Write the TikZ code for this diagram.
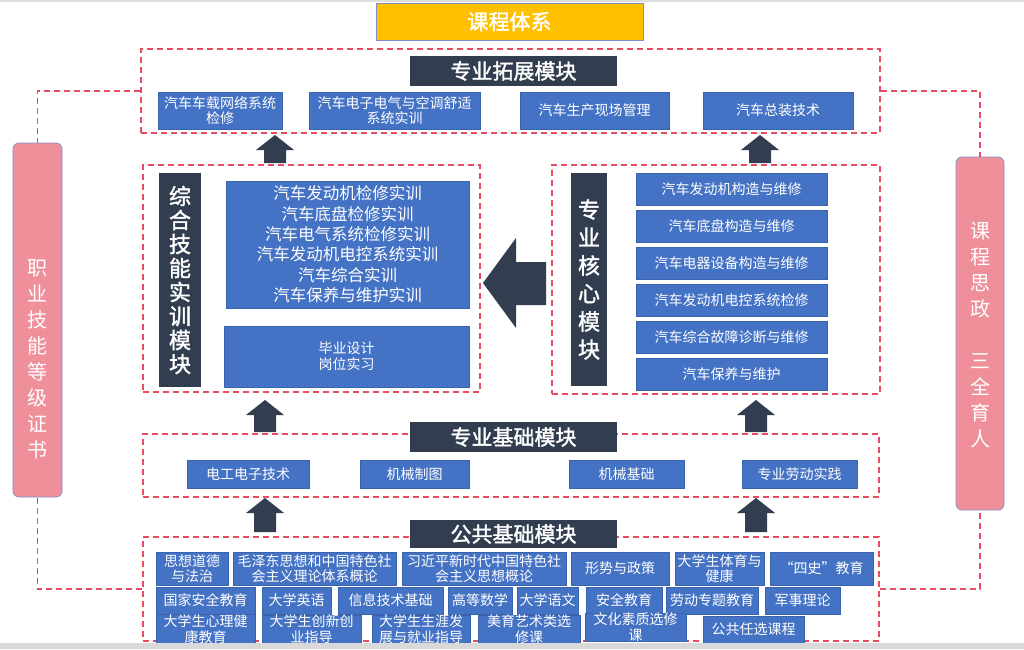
\documentclass[tikz,border=0pt]{standalone}
\usepackage{fontspec}
\setmainfont[AutoFakeBold=1.6]{Noto Sans CJK SC}
\definecolor{dashred}{HTML}{E94C60}
\definecolor{boxblue}{HTML}{4472C4}
\definecolor{boxedge}{HTML}{3A63AE}
\definecolor{darknavy}{HTML}{323E50}
\definecolor{pinkbar}{HTML}{EF8F9A}
\definecolor{baredge}{HTML}{7F8FC8}
\definecolor{titlegold}{HTML}{FFC000}

\begin{document}
\begin{tikzpicture}[x=1pt,y=-1pt,
		spanbox/.style n args={4}{at={({((#1)+(#3))/2},{((#2)+(#4))/2})},minimum width={((#3)-(#1))*1pt},minimum height={((#4)-(#2))*1pt}},
		modframe/.style={draw=dashred,line width=1.8pt,dash pattern=on 6pt off 4pt,inner sep=0pt},
		link/.style={draw=dashred,line width=1.8pt,dash pattern=on 6pt off 4pt},
		course/.style={fill=boxblue,draw=boxedge,line width=0.5pt,text=white,inner sep=0pt,align=center,font=\fontsize{14}{15}\selectfont},
		modhead/.style={fill=darknavy,text=white,inner sep=0pt,font=\fontsize{21}{24}\selectfont\bfseries},
		modside/.style={fill=darknavy,text=white,inner sep=0pt,align=center,font=\fontsize{22}{24}\selectfont\bfseries},
		sidebar/.style={fill=pinkbar,draw=baredge,line width=0.8pt,rounded corners=6pt,inner sep=0pt},
		sidetext/.style={text=white,align=center,font=\fontsize{20}{26}\selectfont}]
		% Page
		\useasboundingbox (0,0) rectangle (1024,649);
		\fill[white] (0,0) rectangle (1024,649);
		\fill[black!12] (0,0) rectangle (1024,1.5);

		% Title
		\node[fill=titlegold,draw=baredge,line width=0.8pt,inner sep=0pt,text=white,
			font=\fontsize{21}{24}\selectfont\bfseries,spanbox={376}{3}{643}{40}] (title) {课程体系};

		% Module frames
		\node[modframe,spanbox={141}{49}{880}{133}] (tuozhan) {};
		\node[modframe,spanbox={143}{165}{480}{392}] (zonghe) {};
		\node[modframe,spanbox={552}{165}{880}{394}] (hexin) {};
		\node[modframe,spanbox={143}{434}{879}{497}] (jichu) {};
		\node[modframe,spanbox={143}{537}{879}{641}] (gonggong) {};

		% Module headers
		\node[modhead,spanbox={410}{56}{617}{86}] (tuozhanhead) {专业拓展模块};
		\node[modhead,spanbox={410}{422}{617}{452}] (jichuhead) {专业基础模块};
		\node[modhead,spanbox={410}{520}{617}{548}] (gonggonghead) {公共基础模块};
		\node[modside,spanbox={159}{173}{201}{387}] (zongheside) {综\\合\\技\\能\\实\\训\\模\\块};
		\node[modside,font=\fontsize{22}{28}\selectfont\bfseries,spanbox={571}{173}{607}{386}] (hexinside) {专\\业\\核\\心\\模\\块};

		% Extension courses
		\node[course,spanbox={158}{92}{282}{129}] (tz1) {汽车车载网络系统\\检修};
		\node[course,spanbox={309}{92}{480}{129}] (tz2) {汽车电子电气与空调舒适\\系统实训};
		\node[course,spanbox={520}{92}{669}{129}] (tz3) {汽车生产现场管理};
		\node[course,spanbox={703}{92}{853}{129}] (tz4) {汽车总装技术};

		% Skill training
		\node[course,font=\fontsize{16.5}{20.4}\selectfont,spanbox={226}{181}{469}{308}] (zh1)
		{汽车发动机检修实训\\汽车底盘检修实训\\汽车电气系统检修实训\\汽车发动机电控系统实训\\汽车综合实训\\汽车保养与维护实训};
		\node[course,font=\fontsize{14}{16}\selectfont,spanbox={224}{326}{469}{387}] (zh2) {毕业设计\\岗位实习};

		% Core courses
		\foreach \t [count=\i from 0] in {汽车发动机构造与维修,汽车底盘构造与维修,汽车电器设备构造与维修,
			汽车发动机电控系统检修,汽车综合故障诊断与维修,汽车保养与维护}
		\node[course,spanbox={636}{173+37*\i}{827}{205+37*\i}] (hx\i) {\t};

		% Basic courses
		\node[course,spanbox={187}{460}{309}{488}] (jc1) {电工电子技术};
		\node[course,spanbox={360}{460}{469}{488}] (jc2) {机械制图};
		\node[course,spanbox={569}{460}{684}{488}] (jc3) {机械基础};
		\node[course,spanbox={742}{460}{857}{488}] (jc4) {专业劳动实践};

		% Public courses
		\foreach \xa/\ya/\xb/\yb/\t [count=\i] in {
			156/552/228/585/{思想道德\\与法治},
			233/552/396/585/{毛泽东思想和中国特色社\\会主义理论体系概论},
			402/552/566/585/{习近平新时代中国特色社\\会主义思想概论},
			571/552/669/585/{形势与政策},
			675/552/764/585/{大学生体育与\\健康},
			770/552/873/585/{“四史”教育},
			156/587/255/614/{国家安全教育},
			262/587/331/614/{大学英语},
			338/587/443/614/{信息技术基础},
			448/587/512/614/{高等数学},
			517/587/578/614/{大学语文},
			586/587/662/614/{安全教育},
			666/587/758/614/{劳动专题教育},
			765/587/840/614/{军事理论},
			156/615/255/643/{大学生心理健\\康教育},
			262/615/361/643/{大学生创新创\\业指导},
			372/615/470/643/{大学生生涯发\\展与就业指导},
			478/615/580/643/{美育艺术类选\\修课},
			585/613/686/641/{文化素质选修\\课},
			703/616/804/643/{公共任选课程}}
		\node[course,font=\fontsize{14}{15.5}\selectfont,spanbox={\xa}{\ya}{\xb}{\yb}] (gg\i) {\t};

		% Block arrows
		\foreach \cx/\ty/\len in {275/135/28,760/135/28,265/400/32,756/400/32,265/498/34,756/498/34}
		\fill[darknavy] (\cx,\ty) -- ++(19,15) -- ++(-8,0) -- ({\cx+11},{\ty+\len}) -- ({\cx-11},{\ty+\len})
		-- ({\cx-11},{\ty+15}) -- ++(-8,0) -- cycle;
		\fill[darknavy] (483,283) -- (516,238) -- (516,262) -- (546,262) -- (546,305) -- (516,305) -- (516,328) -- cycle;

		% Side bars
		\node[sidebar,spanbox={13}{143}{62}{497}] (zhengshu) {};
		\node[sidebar,spanbox={956}{157}{1004}{510}] (sizheng) {};
		\draw[link] (tuozhan.west) -| (zhengshu.north);
		\draw[link] (gonggong.west) -| (zhengshu.south);
		\draw[link] (tuozhan.east) -| (sizheng.north);
		\draw[link] (gonggong.east) -| (sizheng.south);
		\node[sidetext] (zhengshutext) at (37.5,359) {职\\业\\技\\能\\等\\级\\证\\书};
		\node[sidetext] (sizhengtext) at (980,335) {课\\程\\思\\政\\\mbox{}\\三\\全\\育\\人};

		% Bottom edge
		\fill[black!15] (0,643) rectangle (1024,649);
	\end{tikzpicture}
\end{document}
